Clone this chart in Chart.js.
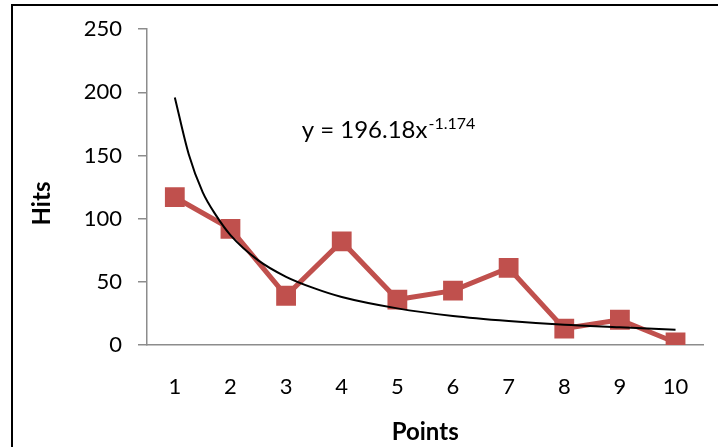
<!DOCTYPE html>
<html>
<head>
<meta charset="utf-8">
<script src="https://cdn.jsdelivr.net/npm/chart.js@4"></script>
<style>
  html, body { margin: 0; padding: 0; background: #fff; }
  #wrap { position: relative; width: 718px; height: 447px; overflow: hidden; }
  #frame { position: absolute; left: 11px; top: 4px; right: -5px; bottom: -5px;
           border-top: 2px solid #000; border-left: 2px solid #000; pointer-events: none; }
  canvas { position: absolute; left: 0; top: 0; }
</style>
</head>
<body>
<div id="wrap">
  <canvas id="c" width="718" height="447"></canvas>
  <div id="frame"></div>
</div>
<script>
// ---- data ----
const categories = [1, 2, 3, 4, 5, 6, 7, 8, 9, 10];
const hits = [117, 92, 39, 82, 36, 43, 61, 13, 20, 2];
// power trend line (as drawn in the picture)
const trendX = [1, 1.25, 1.5, 1.75, 2, 2.5, 3, 3.5, 4, 5, 6, 7, 8, 9, 10];
const trendY = [196, 151, 121, 102, 87, 67, 54, 45, 38, 29, 23, 19, 16, 14, 12];
const yTicks = [0, 50, 100, 150, 200, 250];
const xTitle = 'Points';
const yTitle = 'Hits';
const eqMain = 'y = 196.18x';
const eqSup = '-1.174';

const FONT = 'Lato';

const textPlugin = {
  id: 'texts',
  afterDatasetsDraw(chart) {
    const { ctx, scales } = chart;
    ctx.save();
    // trend-line equation
    const x = scales.x.getPixelForValue(3.28);
    const y = scales.y.getPixelForValue(163.5);
    ctx.fillStyle = '#000';
    ctx.textBaseline = 'alphabetic';
    ctx.textAlign = 'left';
    ctx.font = '24px ' + FONT;
    ctx.fillText(eqMain, x, y);
    const w = ctx.measureText(eqMain).width;
    ctx.font = '16px ' + FONT;
    ctx.fillText(eqSup, x + w + 1, y - 9);
    // y axis title
    const ty = scales.y.getPixelForValue(112);
    const tx = scales.y.left + 14;
    ctx.translate(tx, ty);
    ctx.rotate(-Math.PI / 2);
    ctx.textAlign = 'center';
    ctx.textBaseline = 'middle';
    ctx.font = 'bold 24px ' + FONT;
    ctx.fillText(yTitle, 0, 0);
    ctx.restore();
  }
};

new Chart(document.getElementById('c'), {
  type: 'line',
  data: {
    datasets: [
      {
        label: 'Hits',
        data: categories.map((c, i) => ({ x: c, y: hits[i] })),
        borderColor: '#C0504D',
        backgroundColor: '#C0504D',
        borderWidth: 5,
        pointStyle: 'rect',
        pointRadius: 14,
        pointBorderWidth: 0,
        pointBackgroundColor: '#C0504D',
        order: 2
      },
      {
        label: 'Trend',
        data: trendX.map((t, i) => ({ x: t, y: trendY[i] })),
        borderColor: '#000',
        borderWidth: 2,
        pointRadius: 0,
        cubicInterpolationMode: 'monotone',
        fill: false,
        order: 1
      }
    ]
  },
  options: {
    responsive: false,
    animation: false,
    devicePixelRatio: 1,
    layout: { padding: { left: 28, right: 10, top: 29, bottom: 0 } },
    plugins: { legend: { display: false }, tooltip: { enabled: false } },
    scales: {
      x: {
        type: 'linear',
        min: 0.5,
        max: 10.5,
        afterBuildTicks: s => { s.ticks = categories.map(v => ({ value: v })); },
        afterFit: s => { s.height = 102; },
        grid: { display: false, drawTicks: false },
        border: { display: true, color: '#8c8c8c', width: 1.5 },
        ticks: { color: '#000', font: { family: FONT, size: 22 }, padding: 29, maxRotation: 0 },
        title: { display: true, text: xTitle, color: '#000',
                 font: { family: FONT, size: 24, weight: 'bold' }, padding: { top: 4, bottom: 0 } }
      },
      y: {
        min: 0,
        max: 250,
        afterBuildTicks: s => { s.ticks = yTicks.map(v => ({ value: v })); },
        afterFit: s => { s.width = 147 - 28; },
        grid: { drawOnChartArea: false, drawTicks: true, tickLength: 9, color: '#8c8c8c', lineWidth: 1.5 },
        border: { display: true, color: '#8c8c8c', width: 1.5 },
        ticks: { color: '#000', font: { family: FONT, size: 22 }, padding: 16 },
        title: { display: false }
      }
    }
  },
  plugins: [textPlugin]
});
</script>
</body>
</html>
